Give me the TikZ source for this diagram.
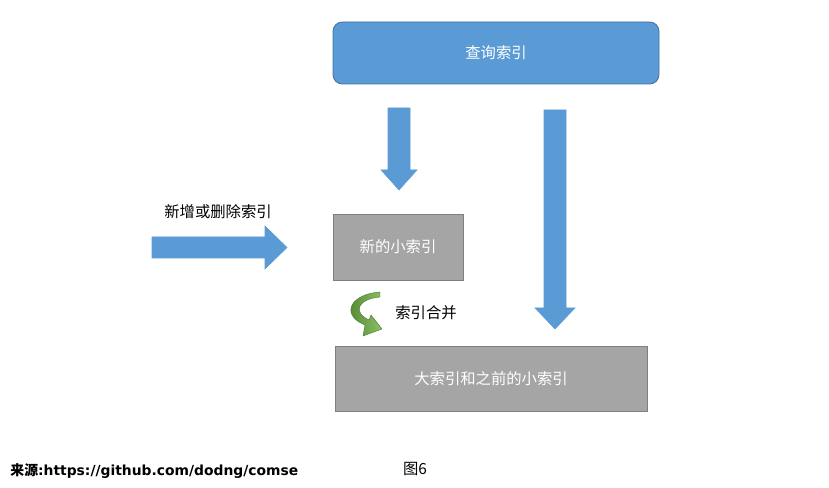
\documentclass[tikz,border=0pt]{standalone}
\usepackage{fontspec}
\setmainfont{Noto Sans CJK SC}
\newfontfamily\urlfont{DejaVu Sans}
\definecolor{qblue}{HTML}{5B9BD5}
\definecolor{qedge}{HTML}{41719C}
\definecolor{igray}{HTML}{A5A5A5}
\definecolor{iedge}{HTML}{7F7F7F}
\definecolor{mlight}{HTML}{8CC063}
\definecolor{mdark}{HTML}{467A2A}
\tikzset{
  idxbox/.style={draw=iedge, fill=igray, text=white, inner sep=0pt},
  blockarrow/.style={fill=qblue, draw=qblue, line width=0.4pt},
}

\begin{document}
\begin{tikzpicture}[x=0.75pt, y=-0.75pt, font=\fontsize{11.5}{14}\selectfont, line width=0.6pt]
  \useasboundingbox (0,0) rectangle (829,488);

  % query box on top
  \node[draw=qedge, fill=qblue, text=white, rounded corners=7pt,
        minimum width=244.5pt, minimum height=46.5pt] (query) at (496,53) {查询索引};

  % index boxes
  \node[idxbox, minimum width=97.5pt, minimum height=49.5pt] (newsmall) at (398,247) {新的小索引};
  \node[idxbox, minimum width=234pt, minimum height=48.75pt] (bigsmall) at (491,378.5) {大索引和之前的小索引};

  % block arrows
  \draw[blockarrow] (388,108) -- (410,108) -- (410,170) -- (417,170) -- (399,190)
     -- (381,170) -- (388,170) -- cycle;
  \draw[blockarrow] (544,110) -- (566,110) -- (566,308) -- (575,308) -- (555,329)
     -- (535,308) -- (544,308) -- cycle;
  \draw[blockarrow] (152,237) -- (265,237) -- (265,226) -- (287,247.5) -- (265,269)
     -- (265,258) -- (152,258) -- cycle;
  \node (addlabel) at (218,212) {新增或删除索引};

  % merge: curved green arrow
  \shade[left color=mdark, right color=mlight, draw=mdark, line width=0.3pt]
    (380,292) .. controls (350,294) and (340,315) .. (365,325)
    -- (363,336) -- (382,329) -- (371,315) -- (369,320)
    .. controls (352,312) and (358,299) .. (380,297) -- cycle;
  \node (mergelabel) at (426,313) {索引合并};

  % footer
  \node[anchor=west, inner sep=0pt, font=\fontsize{10.4}{13}\selectfont\bfseries] (source) at (10,471)
    {来源\urlfont :https://github.com/dodng/comse};
  \node (figlabel) at (415,469) {图6};
\end{tikzpicture}
\end{document}
